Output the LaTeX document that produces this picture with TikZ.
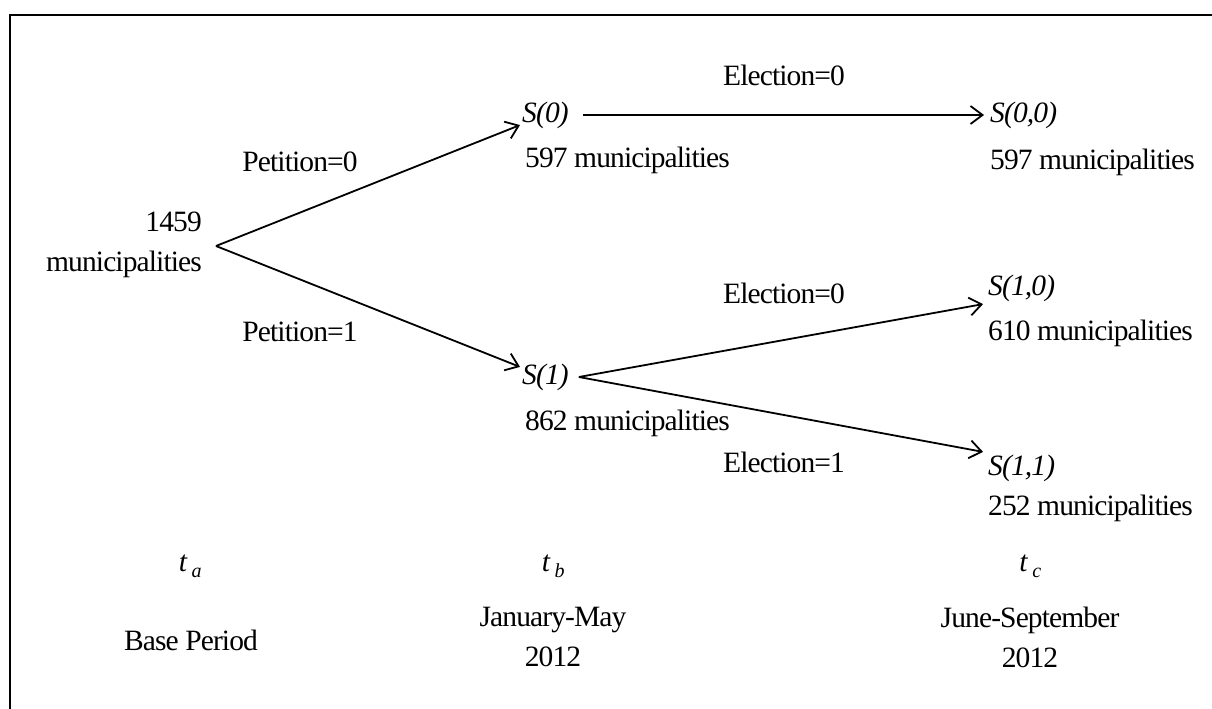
\documentclass[tikz,border=0pt]{standalone}
\usepackage{fontspec}
\setmainfont[LetterSpace=-3]{Liberation Serif}
\usepackage{tikz}
\usetikzlibrary{arrows.meta}
\newcommand{\tper}[1]{\textit{t}\,\raisebox{-0.45ex}{\fontsize{20}{20}\selectfont\textit{#1}}}
\tikzset{
	txt/.style={inner sep=2pt, font=\fontsize{29.5}{40}\selectfont},
	state/.style={txt, anchor=west, font=\fontsize{29.5}{40}\selectfont\itshape},
	count/.style={txt, anchor=west},
	branch/.style={line width=1.8pt, -{Straight Barb[length=12pt,width=18pt]}},
}

\begin{document}
\begin{tikzpicture}[x=1pt, y=-1pt]
		\useasboundingbox (0,0) rectangle (1212,709);
		\draw[line width=2.6pt] (10,709) -- (10,15) -- (1212,15);
		
		\node (root) [txt, anchor=east, align=right] at (204,245) {1459\\municipalities};
		\coordinate (fork) at (216,246);
		
		\node (s0) [state] at (520,115) {S(0)};
		\node (n0) [count] at (523,160) {597 municipalities};
		\node (s1) [state] at (520,377) {S(1)};
		\node (n1) [count] at (523,423) {862 municipalities};
		\coordinate (s1fork) at ([xshift=8pt]s1.east);
		
		\node (s00) [state] at (988,115) {S(0,0)};
		\node (n00) [count] at (988,162) {597 municipalities};
		\node (s10) [state] at (986,288) {S(1,0)};
		\node (n10) [count] at (986,333) {610 municipalities};
		\node (s11) [state] at (986,468) {S(1,1)};
		\node (n11) [count] at (986,508) {252 municipalities};
		
		\node (pet0) [txt] at (300,162) {Petition=0};
		\node (pet1) [txt] at (300,332) {Petition=1};
		\node (el00) [txt] at (784,75) {Election=0};
		\node (el10) [txt] at (784,293) {Election=0};
		\node (el11) [txt] at (784,462) {Election=1};
		
		\path[branch]
		(fork) edge (s0)
		(fork) edge (s1)
		(s0) edge [shorten <=12pt, shorten >=4pt] (s00)
		(s1fork) edge [shorten >=3pt] (s10.south west)
		(s1fork) edge [shorten >=3pt] (s11.north west);
		
		\node (ta) [txt] at (190,566) {\tper{a}};
		\node (tb) [txt] at (553,566) {\tper{b}};
		\node (tc) [txt] at (1030,566) {\tper{c}};
		\node (pa) [txt] at (191,640) {Base Period};
		\node (pb) [txt, align=center] at (553,637) {January-May\\2012};
		\node (pc) [txt, align=center] at (1030,637) {June-September\\2012};
\end{tikzpicture}
\end{document}
